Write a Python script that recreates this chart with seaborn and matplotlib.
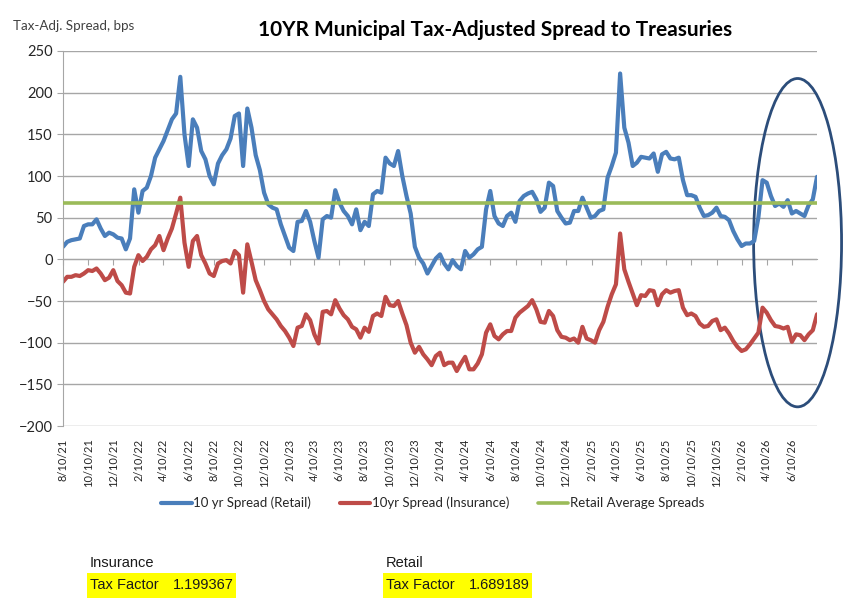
import matplotlib.pyplot as plt
import matplotlib.dates as mdates
from matplotlib.patches import Ellipse, Rectangle
import pandas as pd
import seaborn as sns

# values, one point every ~1/3 month
retail = [
    15, 21, 23, 24, 25, 40, 42, 42, 48, 37, 28, 32, 30, 26, 25, 12, 25, 84, 56, 82,
    86, 100, 122, 132, 142, 155, 168, 175, 219, 150, 112, 168, 158, 130, 120, 100, 90, 115, 125, 132,
    145, 172, 175, 112, 181, 158, 125, 107, 80, 66, 62, 60, 42, 28, 14, 10, 45, 46, 58, 45,
    22, 2, 48, 52, 50, 83, 68, 58, 52, 42, 60, 35, 45, 40, 78, 82, 80, 122, 115, 112,
    130, 100, 76, 55, 15, 2, -5, -17, -8, 1, 6, -5, -12, -1, -8, -12, 10, 2, 6, 12,
    15, 60, 82, 52, 43, 40, 52, 56, 45, 70, 76, 79, 81, 72, 57, 62, 92, 88, 58, 50,
    43, 44, 58, 58, 74, 62, 50, 52, 58, 60, 98, 112, 128, 223, 158, 140, 112, 116, 123, 122,
    121, 127, 105, 126, 129, 121, 120, 122, 95, 77, 77, 75, 62, 52, 53, 56, 62, 52, 51, 47,
    34, 24, 16, 19, 19, 22, 50, 95, 92, 76, 64, 67, 63, 71, 55, 58, 55, 52, 65, 72,
    99,
]
insurance = [
    -27, -21, -21, -19, -20, -17, -13, -14, -11, -17, -25, -22, -13, -26, -31, -40, -41, -9, 5, -2,
    3, 12, 17, 28, 11, 25, 37, 55, 74, 20, -9, 22, 28, 5, -5, -17, -20, -5, -2, -1,
    -5, 10, 5, -40, 18, -3, -25, -37, -50, -60, -66, -72, -80, -86, -94, -104, -82, -80, -66, -73,
    -90, -101, -63, -62, -66, -49, -59, -67, -72, -81, -84, -94, -82, -87, -68, -65, -68, -45, -55, -56,
    -50, -65, -79, -100, -112, -105, -114, -120, -127, -116, -112, -127, -124, -124, -134, -125, -117, -132, -132, -125,
    -114, -88, -78, -92, -96, -90, -86, -86, -70, -64, -60, -56, -49, -60, -75, -76, -62, -68, -85, -93,
    -94, -97, -95, -100, -81, -95, -97, -100, -85, -75, -57, -42, -30, 31, -12, -27, -41, -55, -43, -44,
    -37, -38, -55, -42, -37, -40, -38, -37, -58, -67, -65, -68, -77, -81, -80, -74, -72, -85, -82, -89,
    -98, -105, -110, -108, -102, -95, -88, -58, -64, -73, -80, -81, -83, -81, -99, -90, -91, -97, -90, -85,
    -66,
]
retail_avg = 68
insurance_factor = "1.199367"
retail_factor = "1.689189"

dates = pd.date_range("2021-08-10", "2026-08-10", periods=len(retail))
tick_dates = pd.date_range("2021-08-10", "2026-06-10", freq=pd.DateOffset(months=2))
tick_labels = [f"{d.month}/{d.day}/{d:%y}" for d in tick_dates]
yticks = list(range(-200, 251, 50))

df = pd.DataFrame({"date": dates, "retail": retail, "insurance": insurance})

sns.set_style("white")
plt.rcParams["font.family"] = ["Lato", "DejaVu Sans"]

W, H = 852, 611
fig = plt.figure(figsize=(W / 100, H / 100), dpi=100)
ax = fig.add_axes([63 / W, 1 - 426 / H, (817 - 63) / W, (426 - 51) / H])

grid_col = "#A6A6A6"
sns.lineplot(data=df, x="date", y="retail", color="#4A7EBB", lw=3, ax=ax,
             label="10 yr Spread (Retail)")
sns.lineplot(data=df, x="date", y="insurance", color="#BE4B48", lw=3, ax=ax,
             label="10yr Spread (Insurance)")
ax.axhline(retail_avg, color="#9BBB59", lw=2.6, label="Retail Average Spreads", zorder=3)

ax.set_xlim(dates[0], dates[-1])
ax.set_ylim(-200, 250)
ax.set_yticks(yticks)
ax.yaxis.grid(True, color=grid_col, lw=1)
ax.set_axisbelow(True)
ax.set_xticks(tick_dates)
ax.set_xticklabels(tick_labels, rotation=90, fontsize=8, color="#262626")
ax.tick_params(axis="x", length=0, pad=9)
ax.tick_params(axis="y", length=4, color=grid_col, labelsize=10.5, labelcolor="#262626", left=True)
for s in ["top", "right", "bottom"]:
    ax.spines[s].set_visible(False)
ax.spines["left"].set_color(grid_col)
ax.set_xlabel("")
ax.set_ylabel("")

# category axis crossing at zero with tick marks
sec = ax.secondary_xaxis(200 / 450)
sec.set_alignment("bottom")
sec.set_xticks(tick_dates)
sec.set_xticklabels([])
sec.tick_params(direction="out", length=4, color=grid_col)
sec.spines["bottom"].set_color(grid_col)

# highlight ellipse around the latest months
xc = mdates.date2num(pd.Timestamp("2026-06-24"))
ax.add_patch(Ellipse((xc, 20), 213, 394, fill=False, ec="#2C4D7A", lw=2, clip_on=False))

handles, labels = ax.get_legend_handles_labels()
ax.get_legend().remove()
fig.legend(handles, labels, loc="center", bbox_to_anchor=(0.508, 1 - 503 / H), ncol=3,
           frameon=False, fontsize=9.5, handlelength=2.3, handletextpad=0.1, columnspacing=2.2)

fig.text(495 / W, 1 - 30 / H, "10YR Municipal Tax-Adjusted Spread to Treasuries",
         ha="center", va="center", fontsize=15, fontweight="bold", color="black")
fig.text(13 / W, 1 - 26 / H, "Tax-Adj. Spread, bps", ha="left", va="center",
         fontsize=9.6, color="#404040")

narrow = ["Liberation Sans Narrow", "Liberation Sans", "DejaVu Sans"]
for x0, name, val in [(87, "Insurance", insurance_factor), (383, "Retail", retail_factor)]:
    fig.add_artist(Rectangle((x0 / W, 1 - 598 / H), 149 / W, 25 / H,
                             transform=fig.transFigure, color="#FFFF00", lw=0))
    fig.text((x0 + 3) / W, 1 - 563 / H, name, ha="left", va="center", fontsize=10.5,
             family=narrow, color="#1a1a1a")
    fig.text((x0 + 3) / W, 1 - 585 / H, "Tax Factor", ha="left", va="center", fontsize=10.5,
             family=narrow, color="#1a1a1a")
    fig.text((x0 + 147) / W, 1 - 585 / H, val, ha="right", va="center", fontsize=10.5,
             family=narrow, color="#1a1a1a")

fig.savefig("out.png", dpi=100)
